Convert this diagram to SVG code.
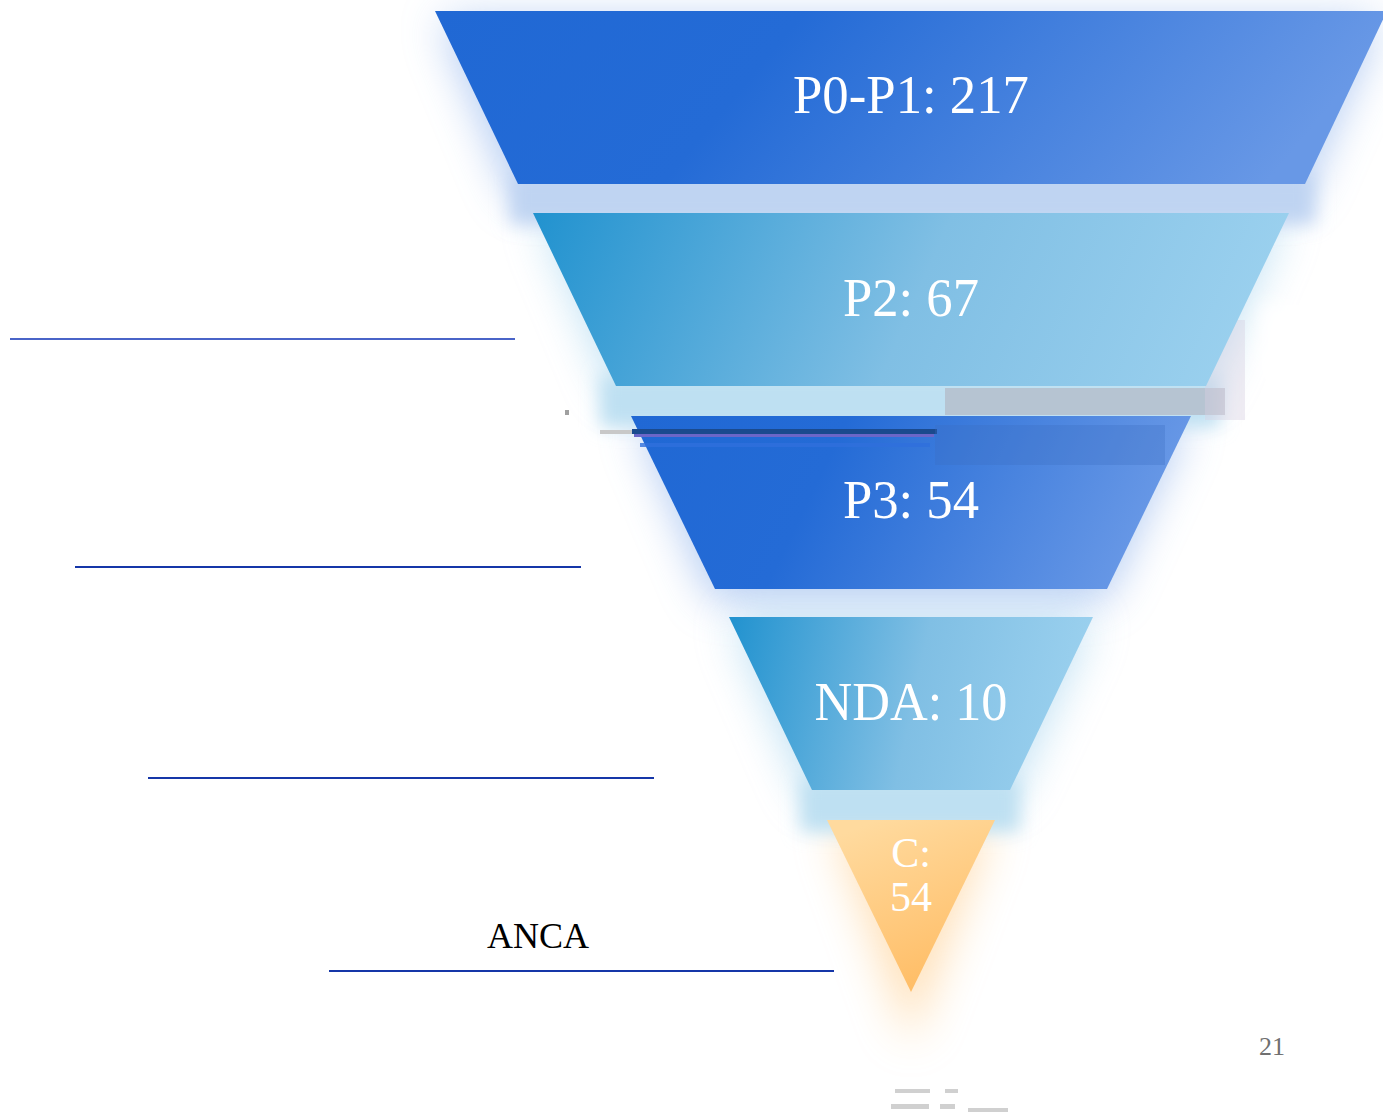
<svg xmlns="http://www.w3.org/2000/svg" width="1383" height="1117" viewBox="0 0 1383 1117">
<defs>
<linearGradient id="gBlue" x1="0" y1="0" x2="1" y2="0.15">
<stop offset="0" stop-color="#2068d4"/>
<stop offset="0.38" stop-color="#246bd6"/>
<stop offset="1" stop-color="#6898e6"/>
</linearGradient>
<linearGradient id="gSky" x1="0" y1="0" x2="1" y2="0.1">
<stop offset="0" stop-color="#2192cf"/>
<stop offset="0.55" stop-color="#80bfe4"/>
<stop offset="1" stop-color="#9ad0ee"/>
</linearGradient>
<linearGradient id="gOrange" x1="0.3" y1="0" x2="0.7" y2="1">
<stop offset="0" stop-color="#ffda9e"/>
<stop offset="1" stop-color="#ffbb62"/>
</linearGradient>
<filter id="blur" x="-30%" y="-60%" width="160%" height="220%">
<feGaussianBlur stdDeviation="22"/>
</filter>
<filter id="blurS" x="-30%" y="-60%" width="160%" height="220%">
<feGaussianBlur stdDeviation="9"/>
</filter>
<style>
.lbl{font-family:"Liberation Serif","Times New Roman",serif;fill:#ffffff;text-anchor:middle}
.rule{stroke-width:2;fill:none}
</style>
</defs>
<rect width="1383" height="1117" fill="#ffffff"/>

<g id="glow">
<polygon points="440,20 1380,20 1302,200 515,200" fill="#6a9ae6" opacity="0.5" filter="url(#blur)"/>
<polygon points="540,215 1284,215 1206,395 615,395" fill="#8cc8ea" opacity="0.55" filter="url(#blur)"/>
<polygon points="636,420 1188,420 1106,600 712,600" fill="#6a9ae6" opacity="0.5" filter="url(#blur)"/>
<polygon points="732,620 1092,620 1010,800 810,800" fill="#8cc8ea" opacity="0.55" filter="url(#blur)"/>
<polygon points="832,825 992,825 911,1045" fill="#ffc880" opacity="0.55" filter="url(#blur)"/>
<rect x="510" y="172" width="805" height="52" fill="#bfd4f2" filter="url(#blurS)"/>
<rect x="600" y="375" width="620" height="52" fill="#bee0f2" filter="url(#blurS)"/>
<rect x="800" y="778" width="220" height="54" fill="#bee0f2" filter="url(#blurS)"/>
<rect x="1262" y="305" width="121" height="80" fill="#ffffff" filter="url(#blurS)"/>
</g>

<g id="glitch">
<rect x="945" y="388" width="280" height="27" fill="#b0b0bc" opacity="0.6"/>
<rect x="1205" y="320" width="40" height="100" fill="#d8d0e0" opacity="0.4"/>
</g>

<g id="band1">
<polygon points="435,11 1387,11 1305,184 518,184" fill="url(#gBlue)"/>
<text class="lbl" x="911" y="113" font-size="54" textLength="236" lengthAdjust="spacingAndGlyphs">P0-P1: 217</text>
</g>
<g id="band2">
<polygon points="533,213 1289,213 1206,386 616,386" fill="url(#gSky)"/>
<text class="lbl" x="911" y="316" font-size="54" textLength="136" lengthAdjust="spacingAndGlyphs">P2: 67</text>
</g>
<g id="band3">
<polygon points="631,416 1191,416 1107,589 715,589" fill="url(#gBlue)"/>
<rect x="632" y="429" width="305" height="5" fill="#1a4a8e"/>
<rect x="600" y="430" width="32" height="4" fill="#c8c8c8"/>
<rect x="634" y="434" width="300" height="3" fill="#6b66c8"/>
<rect x="640" y="443" width="290" height="4" fill="#2f6fdc" opacity="0.8"/>
<rect x="935" y="425" width="230" height="40" fill="#3d6cc0" opacity="0.3"/>
<text class="lbl" x="911" y="518" font-size="54" textLength="136" lengthAdjust="spacingAndGlyphs">P3: 54</text>
</g>
<g id="band4">
<polygon points="729,617 1093,617 1010,790 812,790" fill="url(#gSky)"/>
<text class="lbl" x="911" y="720" font-size="54" textLength="193" lengthAdjust="spacingAndGlyphs">NDA: 10</text>
</g>
<g id="tip">
<polygon points="827,820 995,820 911,992" fill="url(#gOrange)"/>
<text class="lbl" x="911" y="867" font-size="42">C:</text>
<text class="lbl" x="911" y="911" font-size="42">54</text>
</g>

<g id="connectors">
<line class="rule" x1="10" y1="339" x2="515" y2="339" stroke="#4a64c8"/>
<line class="rule" x1="75" y1="567" x2="581" y2="567" stroke="#1536a8"/>
<line class="rule" x1="148" y1="778" x2="654" y2="778" stroke="#1536a8"/>
<line class="rule" x1="329" y1="971" x2="834" y2="971" stroke="#1536a8"/>
</g>

<g id="annotations">
<text x="538" y="948" font-family="'Liberation Serif','Times New Roman',serif" font-size="36" fill="#000000" text-anchor="middle">ANCA</text>
<text x="1272" y="1055" font-family="'Liberation Serif','Times New Roman',serif" font-size="26" fill="#707070" text-anchor="middle">21</text>
<rect x="565" y="410" width="4" height="5" fill="#a0a0a0"/>
<g fill="#d0d0d0">
<rect x="895" y="1089" width="35" height="4"/>
<rect x="945" y="1089" width="13" height="4"/>
<rect x="891" y="1104" width="38" height="5"/>
<rect x="940" y="1104" width="15" height="5"/>
<rect x="968" y="1108" width="40" height="4"/>
</g>
</g>
</svg>
